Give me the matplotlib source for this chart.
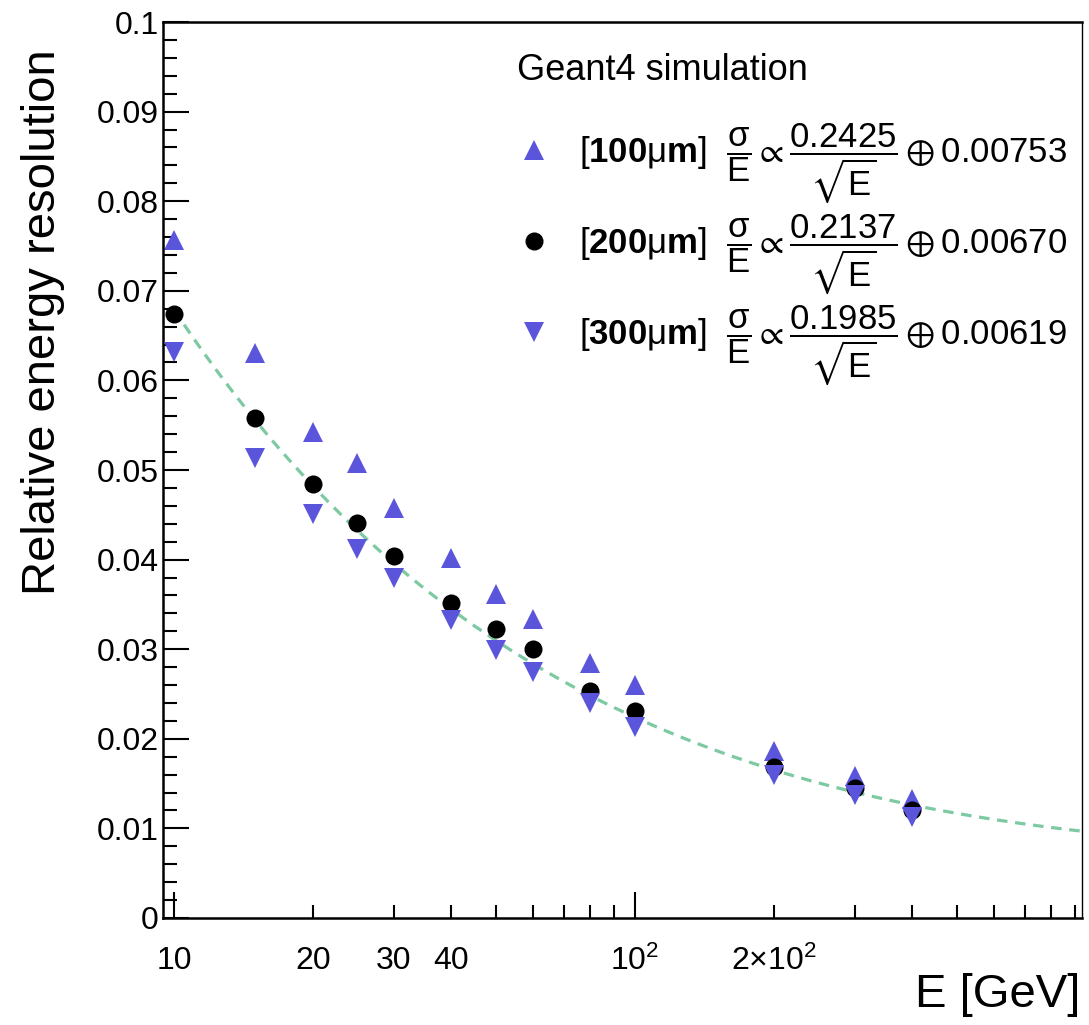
import numpy as np
import matplotlib
matplotlib.use("Agg")
import matplotlib.pyplot as plt
from matplotlib.ticker import FixedLocator, FuncFormatter, MultipleLocator


# --------------------------------------------------
# Data
# --------------------------------------------------

energy = [10, 15, 20, 25, 30, 40, 50, 60, 80, 100, 200, 300, 400]

res_100um = [0.0757, 0.0631, 0.0542, 0.0508, 0.0458, 0.0402, 0.0362,
             0.0334, 0.0285, 0.0260, 0.0186, 0.0158, 0.0133]
res_200um = [0.0674, 0.0558, 0.0484, 0.0441, 0.0404, 0.0352, 0.0323,
             0.0300, 0.0253, 0.0231, 0.0169, 0.0145, 0.0121]
res_300um = [0.0632, 0.0513, 0.0451, 0.0412, 0.0379, 0.0333, 0.0299,
             0.0275, 0.0240, 0.0213, 0.0160, 0.0137, 0.0113]

# fit parameters quoted in the legend: stochastic, constant
fit_100um = (0.2425, 0.00753)
fit_200um = (0.2137, 0.00670)
fit_300um = (0.1985, 0.00619)

x_major = [10, 100]
x_major_labels = ["10", r"$10^{2}$"]
x_minor = [20, 30, 40, 50, 60, 70, 80, 90, 200, 300, 400, 500, 600, 700, 800, 900]
x_minor_labels = {20: "20", 30: "30", 40: "40", 200: r"$2{\times}10^{2}$"}

blue = "#5b55dc"
fit_color = "#7cc9a2"


# --------------------------------------------------
# Style
# --------------------------------------------------

plt.rcParams["font.family"] = ["Liberation Sans", "DejaVu Sans"]
plt.rcParams["mathtext.fontset"] = "custom"
plt.rcParams["mathtext.rm"] = "Liberation Sans"
plt.rcParams["mathtext.it"] = "Liberation Sans:italic"
plt.rcParams["mathtext.bf"] = "Liberation Sans:bold"
plt.rcParams["mathtext.fallback"] = "stixsans"


def legend_label(thick, fit):
    a, b = fit
    return (r"[$\mathbf{%d}\mathrm{\mu}\mathbf{m}$]  "
            r"$\dfrac{\mathrm{\sigma}}{\mathrm{E}}\propto"
            r"\dfrac{%.4f}{\sqrt{\mathrm{E}}}\oplus%.5f$" % (thick, a, b))


# --------------------------------------------------
# Plot
# --------------------------------------------------

fig = plt.figure(figsize=(10.89, 10.25), dpi=100)
ax = fig.add_axes([0.1497, 0.1044, 0.8439, 0.8741])

e_fit = np.logspace(1, np.log10(930), 300)
a, b = fit_200um
ax.plot(e_fit, np.sqrt((a / np.sqrt(e_fit)) ** 2 + b ** 2),
        color=fit_color, lw=2.3, dashes=(3.3, 2.4), zorder=1)

h1, = ax.plot(energy, res_100um, ls="none", marker="^", ms=15,
              color=blue, mew=0, zorder=2, label=legend_label(100, fit_100um))
h2, = ax.plot(energy, res_200um, ls="none", marker="o", ms=13,
              color="black", mew=0, zorder=3, label=legend_label(200, fit_200um))
h3, = ax.plot(energy, res_300um, ls="none", marker="v", ms=15,
              color=blue, mew=0, zorder=4, label=legend_label(300, fit_300um))

ax.set_xscale("log")
ax.set_xlim(9.47, 933)
ax.set_ylim(0, 0.1)

# x ticks, ROOT-like "more log labels"
ax.xaxis.set_major_locator(FixedLocator(x_major))
ax.xaxis.set_major_formatter(FuncFormatter(
    lambda v, p: x_major_labels[x_major.index(int(round(v)))] if int(round(v)) in x_major else ""))
ax.xaxis.set_minor_locator(FixedLocator(x_minor))
ax.xaxis.set_minor_formatter(FuncFormatter(
    lambda v, p: x_minor_labels.get(int(round(v)), "")))

ax.yaxis.set_major_locator(MultipleLocator(0.01))
ax.yaxis.set_minor_locator(MultipleLocator(0.002))
ax.yaxis.set_major_formatter(FuncFormatter(lambda v, p: "%g" % round(v, 3)))

ax.tick_params(axis="both", which="both", direction="in", top=False, right=False,
               width=1.5, colors="black", labelsize=23)
ax.tick_params(axis="x", which="major", length=19, pad=20)
ax.tick_params(axis="x", which="minor", length=9.5, pad=20)
ax.tick_params(axis="y", which="major", length=19, pad=3)
ax.tick_params(axis="y", which="minor", length=10)

for side in ["left", "bottom", "top"]:
    ax.spines[side].set_linewidth(1.8)
ax.spines["right"].set_linewidth(1.0)

ax.set_ylabel("Relative energy resolution", fontsize=34, loc="top")
ax.yaxis.set_label_coords(-0.107, 0.97)
ax.set_xlabel("E [GeV]", fontsize=34, loc="right")
ax.xaxis.set_label_coords(0.998, -0.061)

ax.text(0.385, 0.946, "Geant4 simulation", transform=ax.transAxes,
        fontsize=26, ha="left", va="center")

leg = ax.legend(handles=[h1, h2, h3],
                loc="upper left", bbox_to_anchor=(0.385, 0.889),
                frameon=False, fontsize=25,
                handlelength=1.0, handletextpad=0.8, labelspacing=0.2,
                borderpad=0, borderaxespad=0)

fig.savefig("out.png", dpi=100)
